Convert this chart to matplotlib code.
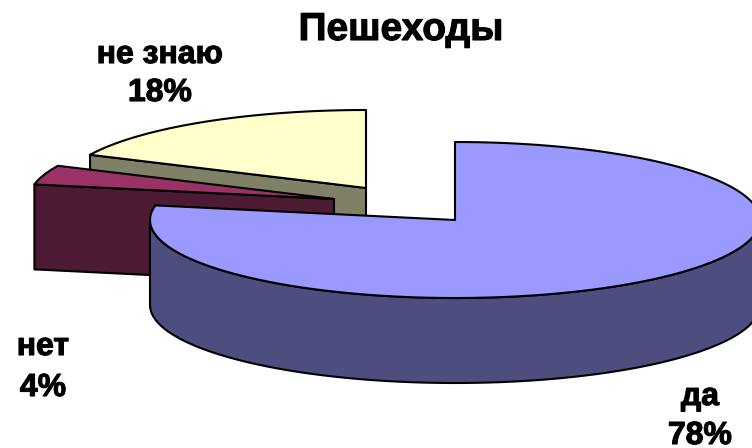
import matplotlib
matplotlib.use('Agg')
import matplotlib.pyplot as plt
import matplotlib.patheffects as pe
from matplotlib.patches import Polygon
import numpy as np

# share of answers, clockwise from 12 o'clock
categories = ['да', 'нет', 'не знаю']
values = [78, 4, 18]

top_colors = ['#9999FF', '#993366', '#FFFFCC']
wall_colors = ['#4D4D80', '#4D1A33', '#808066']

# where each slice was pulled out to (pixels)
centers = [(455, 220), (334, 199), (366, 188)]
label_pos = [(700, 397, 436), (43, 347, 388), (160, 55, 93)]

RX = 305.
RY = 78.
DEPTH = 85.
LW = 1.5


def edge_point(center, angle):
    # angle in degrees clockwise from the top of the ellipse
    a = np.radians(angle)
    return center[0] + RX * np.sin(a), center[1] - RY * np.cos(a)


def arc(center, a0, a1):
    angles = np.linspace(a0, a1, 200)
    return [edge_point(center, a) for a in angles]


def shift(points):
    return [(x, y + DEPTH) for x, y in points]


def add_poly(ax, points, color):
    ax.add_patch(Polygon(points, closed=True, facecolor=color, edgecolor='black',
                         linewidth=LW, joinstyle='round'))


fig = plt.figure(figsize=(7.52, 4.48), dpi=100)
ax = fig.add_axes([0, 0, 1, 1])
ax.set_xlim(0, 752)
ax.set_ylim(448, 0)
ax.axis('off')

edges = np.concatenate(([0], np.cumsum(values))) * 360. / sum(values)
start_da, end_da = edges[0], edges[1]
start_net, end_net = edges[1], edges[2]
start_dk, end_dk = edges[2], edges[3]

# back slice first: "не знаю"
c = centers[2]
p = edge_point(c, start_dk)
add_poly(ax, [p, c, (c[0], c[1] + DEPTH), (p[0], p[1] + DEPTH)], wall_colors[2])
add_poly(ax, [c] + arc(c, start_dk, end_dk), top_colors[2])

# "нет" shows its cut face towards the viewer
c = centers[1]
p = edge_point(c, start_net)
add_poly(ax, [p, c, (c[0], c[1] + DEPTH), (p[0], p[1] + DEPTH)], wall_colors[1])
add_poly(ax, [c] + arc(c, start_net, end_net), top_colors[1])

# the big slice goes on top of the others
c = centers[0]
front = arc(c, 90, 270)
add_poly(ax, front + shift(front)[::-1], wall_colors[0])
add_poly(ax, [c] + arc(c, start_da, end_da), top_colors[0])

# the original text is heavier than plain bold, thicken it a bit
heavy = [pe.withStroke(linewidth=0.8, foreground='black')]
font = {'family': 'Liberation Sans', 'fontweight': 'bold', 'color': 'black',
        'path_effects': heavy}
ax.text(401, 30, 'Пешеходы', fontsize=28, ha='center', va='center', **font)
for name, val, (x, y0, y1) in zip(categories, values, label_pos):
    ax.text(x, y0, name, fontsize=23, ha='center', va='center', **font)
    ax.text(x, y1, '{}%'.format(val), fontsize=23, ha='center', va='center', **font)

fig.savefig('out.png', dpi=100)
